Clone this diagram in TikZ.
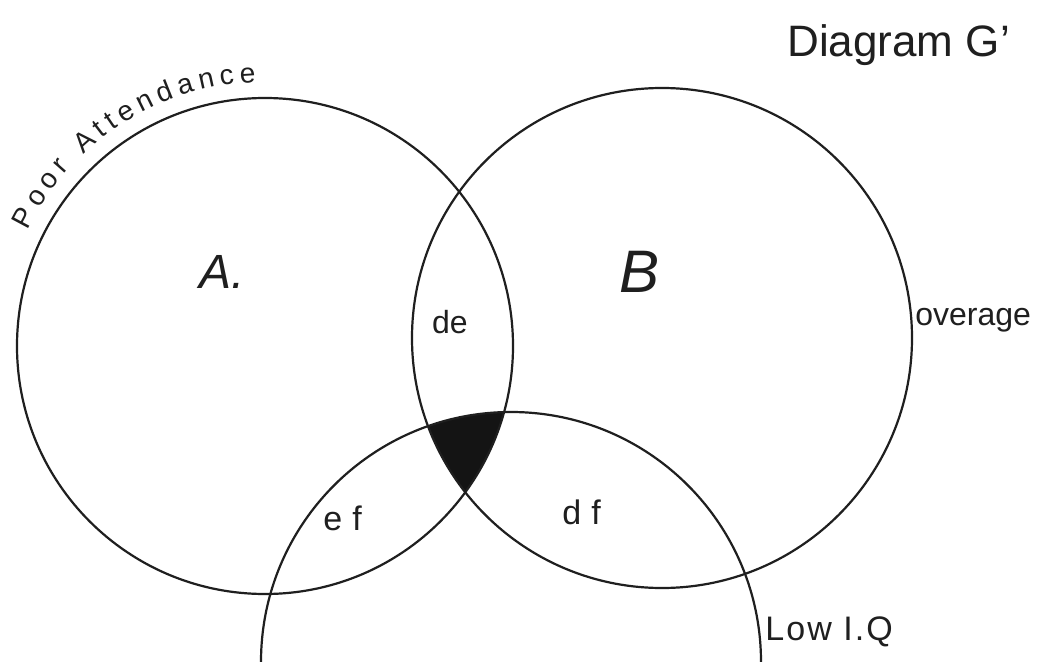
\documentclass[tikz,border=0pt]{standalone}
\usepackage{fontspec}
\setmainfont{Liberation Sans}
\usetikzlibrary{decorations.text}
\begin{document}
\begin{tikzpicture}[x=0.5pt,y=0.5pt,
  circ/.style={draw=black!88, line width=1.1pt},
  hand/.style={text=black!88, inner sep=0pt},
  triple/.style={fill=black!92}]
\useasboundingbox (0,0) rectangle (1040,661);
\fill[white] (0,0) rectangle (1040,661);
\clip (0,0) rectangle (1040,661);
\coordinate (cA) at (265,315);
\coordinate (cB) at (662,323);
\coordinate (cC) at (511,-1);
% shaded triple intersection
\begin{scope}
  \clip (cA) circle[radius=248];
  \clip (cB) circle[radius=250];
  \fill[triple] (cC) circle[radius=250];
\end{scope}
\draw[circ] (cA) circle[radius=248];
\draw[circ] (cB) circle[radius=250];
\draw[circ] (cC) circle[radius=250];
% curved label
\path[decorate, decoration={text along path, text align=fit to path,
  text={|\fontsize{14}{14}\selectfont\color{black!88}|Poor Attendance}}]
  (cA) ++(154:264) arc[start angle=154, end angle=92, radius=264];
% labels
\node[hand, font=\fontsize{22}{22}\selectfont, anchor=west] (title) at (787,616) {Diagram G'};
\node[hand, font=\fontsize{24}{24}\selectfont\itshape] (tA) at (222,389) {A.};
\node[hand, font=\fontsize{30}{30}\selectfont\itshape] (tB) at (640,389) {B};
\node[hand, font=\fontsize{16}{16}\selectfont] (tde) at (450,339) {de};
\node[hand, font=\fontsize{17}{17}\selectfont\addfontfeature{LetterSpace=30}, anchor=west] (tef) at (323,143) {ef};
\node[hand, font=\fontsize{17}{17}\selectfont\addfontfeature{LetterSpace=30}, anchor=west] (tdf) at (562,149) {df};
\node[hand, font=\fontsize{16}{16}\selectfont, anchor=west] (tov) at (915,341) {overage};
\node[hand, font=\fontsize{17}{17}\selectfont\addfontfeature{LetterSpace=6}, anchor=west] (tiq) at (765,29) {Low I.Q};
\end{tikzpicture}
\end{document}
